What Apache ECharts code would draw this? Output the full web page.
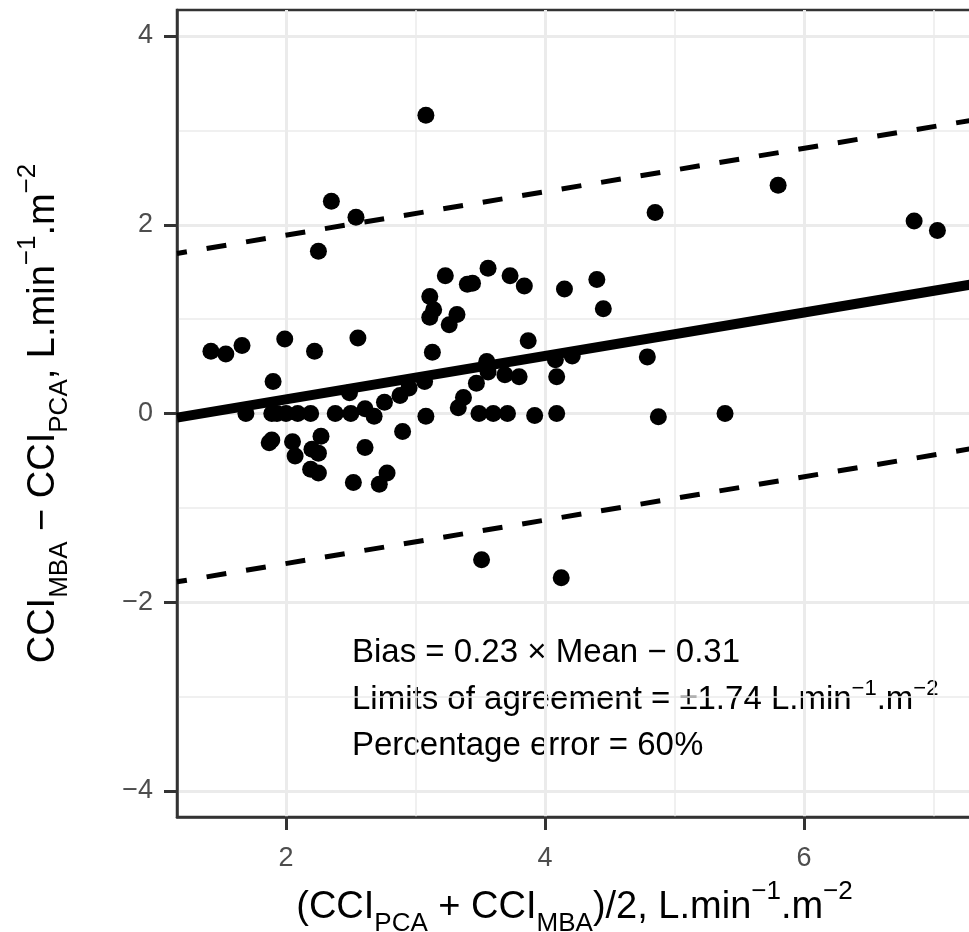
<!DOCTYPE html>
<html>
<head>
<meta charset="utf-8">
<script src="https://cdn.jsdelivr.net/npm/echarts@6/dist/echarts.min.js"></script>
<style>
  html, body { margin: 0; padding: 0; background: #fff; }
  #chart { width: 969px; height: 932px; }
</style>
</head>
<body>
<div id="chart"></div>
<script>
// mean of the two methods (x) and their difference (y)
const meanValues = [1.42, 1.535, 1.66, 1.69, 1.90, 1.89, 1.87, 1.89, 1.93, 2.00,
  1.99, 2.05, 2.07, 2.09, 2.19, 2.20, 2.22, 2.27, 2.25, 2.19,
  2.25, 2.25, 2.35, 2.54, 2.38, 2.49, 2.50, 2.555, 2.61, 2.68,
  2.76, 2.61, 2.52, 2.72, 2.78, 2.88, 2.95, 2.90, 3.07, 3.08,
  3.08, 3.13, 3.11, 3.14, 3.11, 3.32, 3.26, 3.23, 3.33, 3.37,
  3.47, 3.40, 3.44, 3.56, 3.55, 3.56, 3.49, 3.60, 3.71, 3.51,
  3.69, 3.80, 3.73, 3.84, 3.87, 3.92, 4.08, 4.09, 4.09, 4.125,
  4.15, 4.21, 4.40, 4.45, 4.79, 4.85, 4.875, 5.39, 5.80, 6.85,
  7.03]
const diffValues = [0.66, 0.63, 0.72, 0, 0.34, -0.28, -0.31, 0, 0, 0,
  0.79, -0.30, -0.45, 0, 0, -0.38, 0.66, -0.24, -0.42, -0.59,
  -0.63, 1.72, 2.25, 2.08, 0, 0.22, 0, 0.80, 0.05, -0.03,
  0.12, -0.36, -0.73, -0.75, -0.63, 0.19, 0.27, -0.19, 0.34, -0.03,
  3.16, 0.65, 1.24, 1.10, 1.02, 1.05, 0.94, 1.46, 0.06, 0.17,
  0.32, 1.37, 1.38, 1.54, 0.55, 0.44, 0, 0, 0, -1.55,
  0.41, 0.39, 1.46, 1.35, 0.77, -0.02, 0.57, 0.39, 0, -1.74,
  1.32, 0.61, 1.42, 1.11, 0.60, 2.13, -0.035, 0, 2.42, 2.04,
  1.94]

// regression of bias on mean, limits of agreement
const biasSlope = 0.23
const biasIntercept = -0.31
const agreementLimit = 1.74

const xMajorTicks = [2, 4, 6]
const xMinorTicks = [3, 5, 7]
const yMajorTicks = [-4, -2, 0, 2, 4]
const yMinorTicks = [-3, -1, 1, 3]
const xRange = [1.158, 7.297]
const yRange = [-4.276, 4.276]

const FONT = '"Liberation Sans", Arial, Helvetica, sans-serif'
const scriptStyles = {
  sub: { fontSize: 26, lineHeight: 26, verticalAlign: 'bottom', fontFamily: FONT, color: '#000' },
  sup: { fontSize: 26, lineHeight: 24, verticalAlign: 'top', fontFamily: FONT, color: '#000' },
  base: { fontSize: 38, lineHeight: 58, fontFamily: FONT, color: '#000' }
}
const minus = v => (v < 0 ? '\u2212' + Math.abs(v) : String(v))

// endpoints of the three lines across the panel
const lineAt = offset => [
  [xRange[0], biasSlope * xRange[0] + biasIntercept + offset],
  [xRange[1], biasSlope * xRange[1] + biasIntercept + offset]
]

const chart = echarts.init(document.getElementById('chart'))

const axisLine = { show: true, onZero: false, lineStyle: { color: '#333333', width: 2.5 } }
const majorTick = { show: true, inside: false, length: 13, lineStyle: { color: '#333333', width: 3 } }
const label = { color: '#4d4d4d', fontSize: 27, fontFamily: FONT }
const noteStyle = { fontSize: 33, fontFamily: FONT, fill: '#000', verticalAlign: 'middle' }

chart.setOption({
  animation: false,
  backgroundColor: '#fff',
  grid: {
    left: 177, top: 10, right: -3, bottom: 115,
    containLabel: false, outerBoundsMode: 'none',
    show: true, borderColor: '#333333', borderWidth: 2.5, backgroundColor: '#fff'
  },
  xAxis: [
    {
      type: 'value', min: xRange[0], max: xRange[1], position: 'bottom',
      axisLine: axisLine,
      axisTick: Object.assign({ customValues: xMajorTicks }, majorTick),
      axisLabel: Object.assign({ customValues: xMajorTicks, margin: 28, formatter: minus }, label),
      splitLine: { show: true, lineStyle: { color: '#ebebeb', width: 3 } },
      name: '{base|(CCI}{sub|PCA}{base| + CCI}{sub|MBA}{base|)/2, L.min}{sup|\u22121}{base|.m}{sup|\u22122}',
      nameLocation: 'middle',
      nameGap: 62,
      nameTextStyle: { rich: scriptStyles }
    },
    {
      type: 'value', min: xRange[0], max: xRange[1], position: 'bottom',
      axisLine: { show: false, onZero: false },
      axisTick: { show: false, customValues: xMinorTicks },
      axisLabel: { show: false },
      splitLine: { show: true, lineStyle: { color: '#ebebeb', width: 1.5 } }
    }
  ],
  yAxis: [
    {
      type: 'value', min: yRange[0], max: yRange[1],
      axisLine: axisLine,
      axisTick: Object.assign({ customValues: yMajorTicks }, majorTick),
      axisLabel: Object.assign({ customValues: yMajorTicks, margin: 24, formatter: minus }, label),
      splitLine: { show: true, lineStyle: { color: '#ebebeb', width: 3 } },
      name: '{base|CCI}{sub|MBA}{base| \u2212 CCI}{sub|PCA}{base|, L.min}{sup|\u22121}{base|.m}{sup|\u22122}',
      nameLocation: 'middle',
      nameGap: 104,
      nameTextStyle: { rich: scriptStyles }
    },
    {
      type: 'value', min: yRange[0], max: yRange[1],
      axisLine: { show: false, onZero: false },
      axisTick: { show: false, customValues: yMinorTicks },
      axisLabel: { show: false },
      splitLine: { show: true, lineStyle: { color: '#ebebeb', width: 1.5 } }
    }
  ],
  series: [
    {
      type: 'line', data: lineAt(agreementLimit), symbol: 'none',
      lineStyle: { color: '#000', width: 5, type: [20, 20], dashOffset: 10 }
    },
    {
      type: 'line', data: lineAt(-agreementLimit), symbol: 'none',
      lineStyle: { color: '#000', width: 5, type: [20, 20], dashOffset: 10 }
    },
    {
      type: 'line', data: lineAt(0), symbol: 'none',
      lineStyle: { color: '#000', width: 10 }
    },
    {
      type: 'scatter',
      data: meanValues.map((m, i) => [m, diffValues[i]]),
      symbolSize: 17,
      itemStyle: { color: '#000', opacity: 1 }
    }
  ],
  graphic: [
    {
      type: 'text', x: 352, y: 653,
      style: Object.assign({ text: 'Bias = 0.23 \u00d7 Mean \u2212 0.31' }, noteStyle)
    },
    {
      type: 'text', x: 352, y: 700,
      style: Object.assign({
        text: '{base|Limits of agreement = \u00b11.74 L.min}{sup|\u22121}{base|.m}{sup|\u22122}',
        rich: {
          base: { fontSize: 33, lineHeight: 44, fontFamily: FONT, fill: '#000' },
          sup: { fontSize: 22, lineHeight: 22, verticalAlign: 'top', fontFamily: FONT, fill: '#000' }
        }
      }, noteStyle)
    },
    {
      type: 'text', x: 352, y: 746,
      style: Object.assign({ text: 'Percentage error = 60%' }, noteStyle)
    }
  ]
})
</script>
</body>
</html>
